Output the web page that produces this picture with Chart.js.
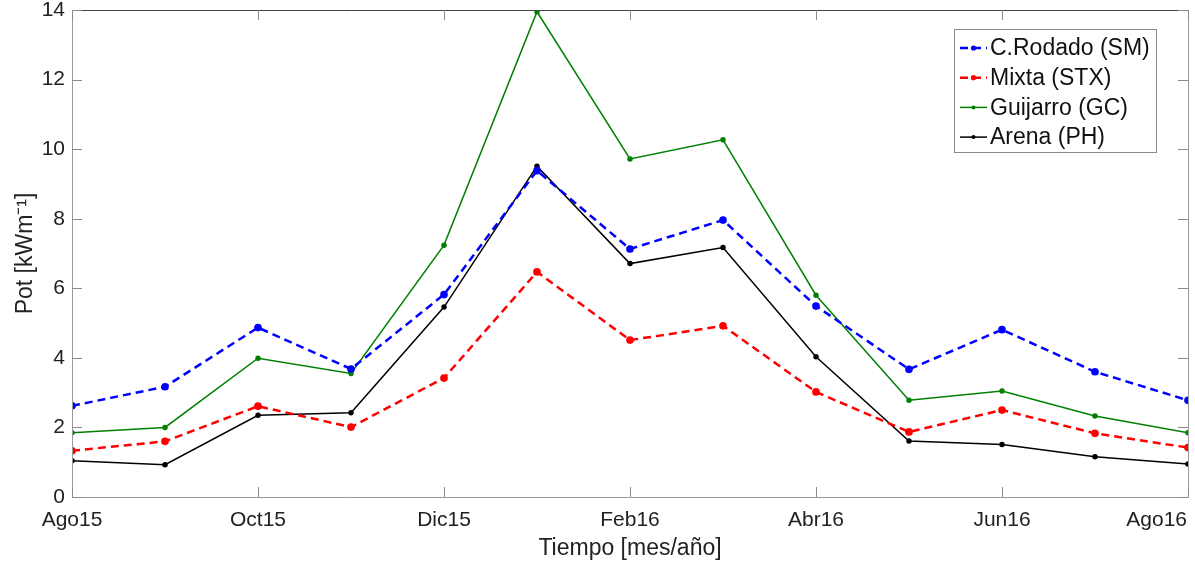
<!DOCTYPE html>
<html>
<head>
<meta charset="utf-8">
<script src="https://cdn.jsdelivr.net/npm/chart.js@4.4.1/dist/chart.umd.min.js"></script>
<style>
  html, body { margin: 0; padding: 0; background: #fff; }
</style>
</head>
<body>
<canvas id="pot" width="1195" height="561"></canvas>
<script>
const months = ['Ago15', 'Sep15', 'Oct15', 'Nov15', 'Dic15', 'Ene16', 'Feb16',
                'Mar16', 'Abr16', 'May16', 'Jun16', 'Jul16', 'Ago16'];
const yTicks = [0, 2, 4, 6, 8, 10, 12, 14];

const rodado   = [2.62, 3.17, 4.87, 3.68, 5.82, 9.38, 7.13, 7.96, 5.49, 3.67, 4.81, 3.60, 2.78];
const mixta    = [1.33, 1.60, 2.61, 2.01, 3.42, 6.47, 4.51, 4.92, 3.02, 1.87, 2.50, 1.83, 1.42];
const guijarro = [1.85, 2.00, 3.99, 3.55, 7.24, 13.95, 9.72, 10.27, 5.80, 2.78, 3.05, 2.33, 1.85];
const arena    = [1.04, 0.93, 2.35, 2.42, 5.46, 9.51, 6.71, 7.17, 4.03, 1.61, 1.51, 1.16, 0.95];

const font = 'Arial, "Liberation Sans", Helvetica, sans-serif';

// every second month gets a tick + label
const xTickIdx = months.map((m, i) => i).filter(i => i % 2 === 0);

function pts(arr) {
  return arr.map((v, i) => ({ x: i, y: v }));
}

// axes box, inward ticks, x labels and the legend (matlab style)
const matlabAxes = {
  id: 'matlabAxes',
  afterDraw(chart) {
    const ctx = chart.ctx;
    const a = chart.chartArea;
    const xs = chart.scales.x, ys = chart.scales.y;
    ctx.save();

    ctx.lineWidth = 1;
    ctx.strokeStyle = '#9a9a9a';
    ctx.beginPath();
    ctx.moveTo(a.left + 0.5, a.top);
    ctx.lineTo(a.left + 0.5, a.bottom + 0.5);
    ctx.lineTo(a.right + 0.5, a.bottom + 0.5);
    ctx.lineTo(a.right + 0.5, a.top);
    ctx.stroke();
    ctx.strokeStyle = '#444';
    ctx.beginPath();
    ctx.moveTo(a.left, a.top + 0.5);
    ctx.lineTo(a.right + 1, a.top + 0.5);
    ctx.stroke();

    const tl = 10;
    ctx.strokeStyle = '#8a8a8a';
    ctx.beginPath();
    yTicks.forEach(v => {
      const y = Math.round(ys.getPixelForValue(v)) + 0.5;
      ctx.moveTo(a.left, y); ctx.lineTo(a.left + tl, y);
      ctx.moveTo(a.right, y); ctx.lineTo(a.right - tl, y);
    });
    xTickIdx.forEach(i => {
      const x = Math.round(xs.getPixelForValue(i)) + 0.5;
      ctx.moveTo(x, a.bottom); ctx.lineTo(x, a.bottom - tl);
      ctx.moveTo(x, a.top); ctx.lineTo(x, a.top + tl);
    });
    ctx.stroke();

    // x tick labels (last one kept inside the canvas)
    ctx.fillStyle = '#222';
    ctx.font = '21px ' + font;
    ctx.textBaseline = 'alphabetic';
    xTickIdx.forEach((i, k) => {
      const x = xs.getPixelForValue(i);
      ctx.textAlign = k === xTickIdx.length - 1 ? 'right' : 'center';
      ctx.fillText(months[i], k === xTickIdx.length - 1 ? x - 1 : x, a.bottom + 29);
    });

    // legend
    const bw = 202, bh = 123;
    const bx = a.right - 32 - bw, by = a.top + 19;
    ctx.fillStyle = '#fff';
    ctx.fillRect(bx, by, bw, bh);
    ctx.strokeStyle = '#8a8a8a';
    ctx.lineWidth = 1;
    ctx.strokeRect(bx + 0.5, by + 0.5, bw, bh);
    ctx.font = '23px ' + font;
    ctx.textAlign = 'left';
    ctx.textBaseline = 'middle';
    chart.data.datasets.forEach((ds, k) => {
      const cy = by + 19 + k * 29.7;
      ctx.strokeStyle = ds.borderColor;
      ctx.lineWidth = ds.borderWidth;
      ctx.setLineDash(ds.borderDash || []);
      ctx.beginPath();
      ctx.moveTo(bx + 6, cy);
      ctx.lineTo(bx + 33, cy);
      ctx.stroke();
      ctx.setLineDash([]);
      ctx.fillStyle = ds.borderColor;
      ctx.beginPath();
      ctx.arc(bx + 19.5, cy, ds.pointRadius, 0, Math.PI * 2);
      ctx.fill();
      ctx.fillStyle = '#111';
      ctx.fillText(ds.label, bx + 36, cy + 1);
    });
    ctx.restore();
  }
};

new Chart(document.getElementById('pot'), {
  type: 'line',
  data: {
    datasets: [
      {
        label: 'C.Rodado (SM)',
        data: pts(rodado),
        borderColor: '#0000ff',
        backgroundColor: '#0000ff',
        borderWidth: 2.5,
        borderDash: [8, 5],
        pointRadius: 2.6
      },
      {
        label: 'Mixta (STX)',
        data: pts(mixta),
        borderColor: '#ff0000',
        backgroundColor: '#ff0000',
        borderWidth: 2.5,
        borderDash: [8, 5],
        pointRadius: 2.6
      },
      {
        label: 'Guijarro (GC)',
        data: pts(guijarro),
        borderColor: '#008000',
        backgroundColor: '#008000',
        borderWidth: 1.5,
        pointRadius: 2
      },
      {
        label: 'Arena (PH)',
        data: pts(arena),
        borderColor: '#000000',
        backgroundColor: '#000000',
        borderWidth: 1.5,
        pointRadius: 2
      }
    ]
  },
  options: {
    responsive: false,
    animation: false,
    devicePixelRatio: 1,
    layout: { padding: { left: 0, right: 7, top: 10, bottom: 0 } },
    elements: {
      line: { tension: 0 },
      point: { borderWidth: 0, hoverRadius: 2 }
    },
    plugins: {
      legend: { display: false },
      tooltip: { enabled: false }
    },
    scales: {
      x: {
        type: 'linear',
        min: 0,
        max: months.length - 1,
        grid: { display: false, drawTicks: false },
        border: { display: false },
        ticks: { display: false, stepSize: 2 },
        title: {
          display: true,
          text: 'Tiempo [mes/año]',
          color: '#222',
          font: { family: font, size: 23, lineHeight: 1 },
          padding: { top: 0, bottom: 1 }
        },
        afterFit: s => { s.height = 64; s.paddingLeft = 0; s.paddingRight = 0; }
      },
      y: {
        min: 0,
        max: 14,
        grid: { display: false, drawTicks: false },
        border: { display: false },
        ticks: {
          stepSize: 2,
          padding: 7,
          color: '#222',
          font: { family: font, size: 21 }
        },
        title: {
          display: true,
          text: 'Pot [kWm⁻¹]',
          color: '#222',
          font: { family: font, size: 23, lineHeight: 1 },
          padding: { top: 14.5, bottom: 0 }
        },
        afterFit: s => { s.width = 72; s.paddingTop = 0; s.paddingBottom = 0; }
      }
    }
  },
  plugins: [matlabAxes]
});
</script>
</body>
</html>
